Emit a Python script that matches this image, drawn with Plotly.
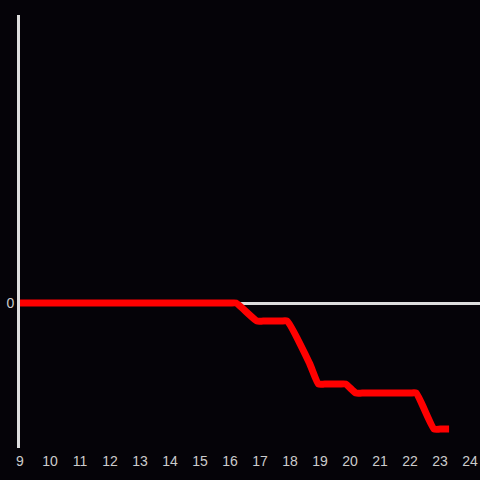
import plotly.graph_objects as go

x_vals = [9, 16.0, 16.2, 16.9, 17.1, 17.7, 17.9, 18.65, 18.95, 19.15, 19.65, 19.85, 20.2, 20.4,
          22.0, 22.2, 22.8, 23.0, 23.3]
y_vals = [0, 0, 0, -2, -2, -2, -2, -6.7, -9, -9, -9, -9, -10, -10,
          -10, -10, -14, -14, -14]
x_ticks = list(range(9, 25))

fig = go.Figure()
fig.add_trace(go.Scatter(x=x_vals, y=y_vals, mode="lines",
                         line=dict(color="#ff0000", width=7, shape="spline", smoothing=0.5),
                         hoverinfo="skip"))
fig.update_layout(
    width=480, height=480,
    paper_bgcolor="#050308", plot_bgcolor="#050308",
    margin=dict(l=20, r=0, t=15, b=32),
    showlegend=False,
    font=dict(family="Liberation Sans, Arial, sans-serif", size=14, color="#cccccc"),
)
fig.update_xaxes(range=[9, 24.33], tickvals=x_ticks, ticktext=[str(v) for v in x_ticks],
                 showgrid=False, zeroline=False, showline=False, ticks="",
                 ticklabelstandoff=3)
fig.update_yaxes(range=[-16.1, 32], tickvals=[0], ticktext=["0"], showgrid=False,
                 zeroline=True, zerolinecolor="#dddddd", zerolinewidth=3,
                 showline=True, linecolor="#dddddd", linewidth=3, ticks="")
fig.write_html("out.html", config={"displayModeBar": False})

with open("out.html", "r", encoding="utf-8") as f:
    html = f.read()
html = html.replace("<body>", '<body style="margin:0;padding:0;background:#050308;overflow:hidden">', 1)
with open("out.html", "w", encoding="utf-8") as f:
    f.write(html)
